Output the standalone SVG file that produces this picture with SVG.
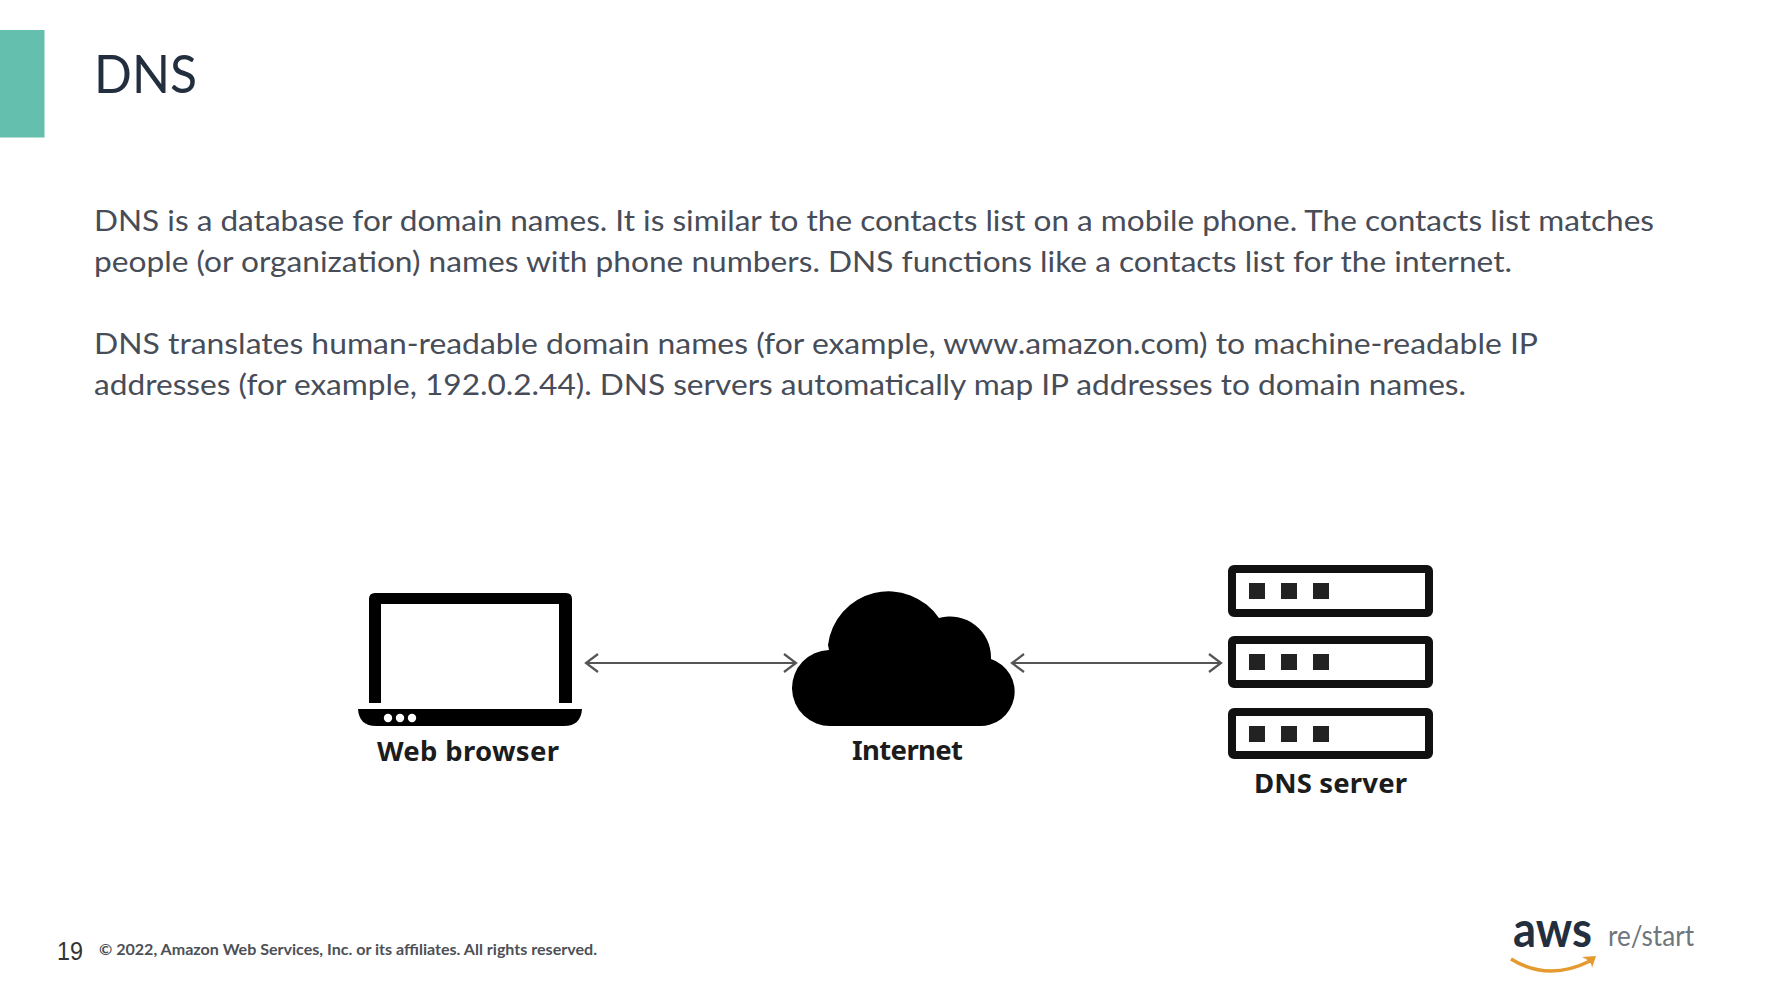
<svg xmlns="http://www.w3.org/2000/svg" width="1780" height="998" viewBox="0 0 1780 998">
<style>
.body{font-family:Lato,"Noto Sans",sans-serif;font-size:29.500px;fill:#474d58}
.lab{font-family:"Noto Sans","Open Sans",sans-serif;font-size:27.500px;font-weight:700;fill:#1c1c1c}
.srv{fill:#fff;stroke:#111;stroke-width:8}
.led{fill:#222}
.conn{stroke:#555;stroke-width:2.2;fill:none;marker-start:url(#h);marker-end:url(#h)}
</style>
<defs>
<marker id="h" markerUnits="userSpaceOnUse" viewBox="-15 -10 17 20" refX="0" refY="0" markerWidth="17" markerHeight="20" orient="auto-start-reverse">
<path d="M-12 -9L0 0L-12 9" fill="none" stroke="#555" stroke-width="2.200"/>
</marker>
</defs>
<rect width="1780" height="998" fill="#fff"/>
<g id="header">
<rect x="0" y="30" width="44.500" height="107.500" fill="#64bfae"/>
<text x="94" y="93" font-family="Lato,sans-serif" font-size="53" fill="#232f3e" textLength="103" lengthAdjust="spacingAndGlyphs">DNS</text>
</g>
<g id="body-text">
<text class="body" x="94" y="231" textLength="1560" lengthAdjust="spacingAndGlyphs">DNS is a database for domain names. It is similar to the contacts list on a mobile phone. The contacts list matches</text>
<text class="body" x="94" y="272" textLength="1418" lengthAdjust="spacingAndGlyphs">people (or organization) names with phone numbers. DNS functions like a contacts list for the internet.</text>
<text class="body" x="94" y="354" textLength="1444" lengthAdjust="spacingAndGlyphs">DNS translates human-readable domain names (for example, www.amazon.com) to machine-readable IP</text>
<text class="body" x="94" y="395" textLength="1372" lengthAdjust="spacingAndGlyphs">addresses (for example, 192.0.2.44).  DNS servers automatically map IP addresses to domain names.</text>
</g>
<g id="connectors">
<line class="conn" x1="586" y1="663" x2="796" y2="663"/>
<line class="conn" x1="1012" y1="663" x2="1221" y2="663"/>
</g>
<g id="web-browser">
<path fill="#000" d="M375 593H566Q572 593 572 599V703H559V604H381V703H369V599Q369 593 375 593Z"/>
<path fill="#000" d="M358 709H582Q581 726 564 726H376Q359 726 358 709Z"/>
<g fill="#fff"><circle cx="388" cy="718" r="4.200"/><circle cx="400" cy="718" r="4.200"/><circle cx="412" cy="718" r="4.200"/></g>
<text class="lab" x="377" y="761" textLength="182" lengthAdjust="spacing">Web browser</text>
</g>
<g id="internet">
<path fill="#000" d="M831 726A38 38 0 0 1 829 650L828 645A61 61 0 0 1 939 618A41 41 0 0 1 991 658L991 659A34.400 34.400 0 0 1 978 726Z"/>
<text class="lab" x="852" y="760" textLength="111" lengthAdjust="spacing">Internet</text>
</g>
<g id="dns-server">
<rect class="srv" x="1232" y="569" width="197" height="44" rx="2"/>
<rect class="srv" x="1232" y="640" width="197" height="44" rx="2"/>
<rect class="srv" x="1232" y="712" width="197" height="43" rx="2"/>
<rect class="led" x="1249" y="583" width="16" height="16"/><rect class="led" x="1281" y="583" width="16" height="16"/><rect class="led" x="1313" y="583" width="16" height="16"/>
<rect class="led" x="1249" y="654" width="16" height="16"/><rect class="led" x="1281" y="654" width="16" height="16"/><rect class="led" x="1313" y="654" width="16" height="16"/>
<rect class="led" x="1249" y="726" width="16" height="16"/><rect class="led" x="1281" y="726" width="16" height="16"/><rect class="led" x="1313" y="726" width="16" height="16"/>
<text class="lab" x="1254" y="793" textLength="153" lengthAdjust="spacing">DNS server</text>
</g>
<g id="footer">
<text x="57" y="960" font-family="'Liberation Sans',sans-serif" font-size="25" fill="#333" textLength="26" lengthAdjust="spacingAndGlyphs">19</text>
<text x="99" y="955" font-family="Lato,sans-serif" font-size="16" font-weight="700" fill="#4d5056" textLength="498" lengthAdjust="spacingAndGlyphs">© 2022,  Amazon Web Services, Inc. or its affiliates. All rights reserved.</text>
</g>
<g id="aws-logo">
<text x="1513" y="947" font-family="Lato,sans-serif" font-size="50" font-weight="700" fill="#232f3e" textLength="79" lengthAdjust="spacingAndGlyphs">aws</text>
<text x="1608" y="946" font-family="Lato,sans-serif" font-size="29" fill="#6f757c" textLength="86" lengthAdjust="spacingAndGlyphs">re/start</text>
<path d="M1511 959Q1548 982 1590 961" fill="none" stroke="#e59a2f" stroke-width="3.500"/>
<path d="M1582 957L1596 956L1592 968Q1592 961 1582 957Z" fill="#e59a2f"/>
</g>
</svg>
